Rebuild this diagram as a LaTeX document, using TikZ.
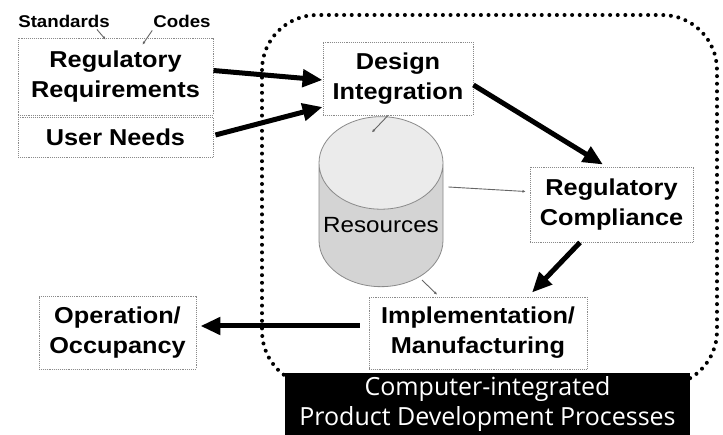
\documentclass[tikz,border=0pt]{standalone}
\usepackage{fontspec}
\setmainfont{Liberation Sans}[FakeStretch=1.1]
\newfontfamily\capfont{Open Sans}
\usetikzlibrary{shapes.geometric,calc,arrows.meta}
\definecolor{boxline}{HTML}{8a8a8a}

\tikzset{
  stepbox/.style={draw=boxline, densely dotted, line width=0.9pt, fill=white,
    align=center, font=\fontsize{23}{30}\selectfont\bfseries},
  flow/.style={line width=5pt, -{Triangle[length=20pt,width=17pt]}},
  link/.style={draw=black!60, line width=0.9pt, -{Latex[length=3pt,width=3pt]}},
  note/.style={font=\fontsize{17}{20}\selectfont\bfseries, inner sep=1pt}
}

\begin{document}
\begin{tikzpicture}[x=1pt, y=-1pt]
  \useasboundingbox (0,0) rectangle (723,435);
  \fill[white] (0,0) rectangle (723,435);

  % dotted frame of the integrated processes
  \draw[line width=4pt, line cap=round, dash pattern=on 0pt off 7.6pt, rounded corners=55pt]
    (262,15) rectangle (717,386);

  % inputs
  \node[note] (std) at (64,21) {Standards};
  \node[note] (codes) at (182,21) {Codes};
  \node[stepbox, minimum width=195pt, minimum height=77pt] (regreq) at (115.5,76.5) {Regulatory\\Requirements};
  \node[stepbox, minimum width=195pt, minimum height=40pt] (needs) at (115.5,137.5) {User Needs};

  % process steps
  \node[stepbox, minimum width=150pt, minimum height=73pt] (design) at (398,78.5) {Design\\Integration};
  \node[cylinder, shape border rotate=90, draw=boxline, line width=0.8pt, aspect=0.8,
        minimum width=124pt, minimum height=170pt, inner sep=0pt,
        cylinder uses custom fill, cylinder end fill=black!8, cylinder body fill=black!17,
        font=\fontsize{22}{26}\selectfont] (res) at (381,225) {Resources};
  \node[stepbox, minimum width=163pt, minimum height=75pt] (comp) at (611.5,204.5) {Regulatory\\Compliance};
  \node[stepbox, minimum width=218pt, minimum height=72pt] (impl) at (478,333) {Implementation/\\Manufacturing};
  \node[stepbox, minimum width=157pt, minimum height=73pt] (oper) at (117.5,332.5) {Operation/\\Occupancy};

  % caption bar
  \node[fill=black, text=white, minimum width=405pt, minimum height=63pt, inner sep=0pt,
        align=center, font=\capfont\fontsize{25}{30}\selectfont] (cap) at (487.5,404.5)
        {Computer-integrated\\Product Development Processes};

  % main flow
  \draw[flow] ($(regreq.east)+(0,-6)$) -- ($(design.west)+(0,1.5)$);
  \draw[flow] ($(needs.east)+(2,-2.5)$) -- ($(design.west)+(0,28.5)$);
  \draw[flow] ($(design.east)+(0,6.5)$) -- ($(comp.north)+(-8.5,-2)$);
  \draw[flow] ($(comp.south)+(-31.5,0)$) -- ($(impl.north)+(54,-4)$);
  \draw[flow] ($(impl.west)+(-9,-7)$) -- ($(oper.east)+(4,-6.5)$);

  % links to resources
  \draw[link] ($(std.south east)+(-14,1)$) -- ($(regreq.north west)+(88,2)$);
  \draw[link] ($(codes.south west)+(0,2)$) -- ($(regreq.north west)+(125,7)$);
  \draw[link] ($(design.south)+(-10,0)$) -- ($(res.north)+(-9,16)$);
  \draw[link] ($(res.east)+(5,-38)$) -- ($(comp.west)+(-4,-13)$);
  \draw[link] ($(res.south)+(41,-7)$) -- ($(impl.north)+(-41,-2)$);
\end{tikzpicture}
\end{document}
